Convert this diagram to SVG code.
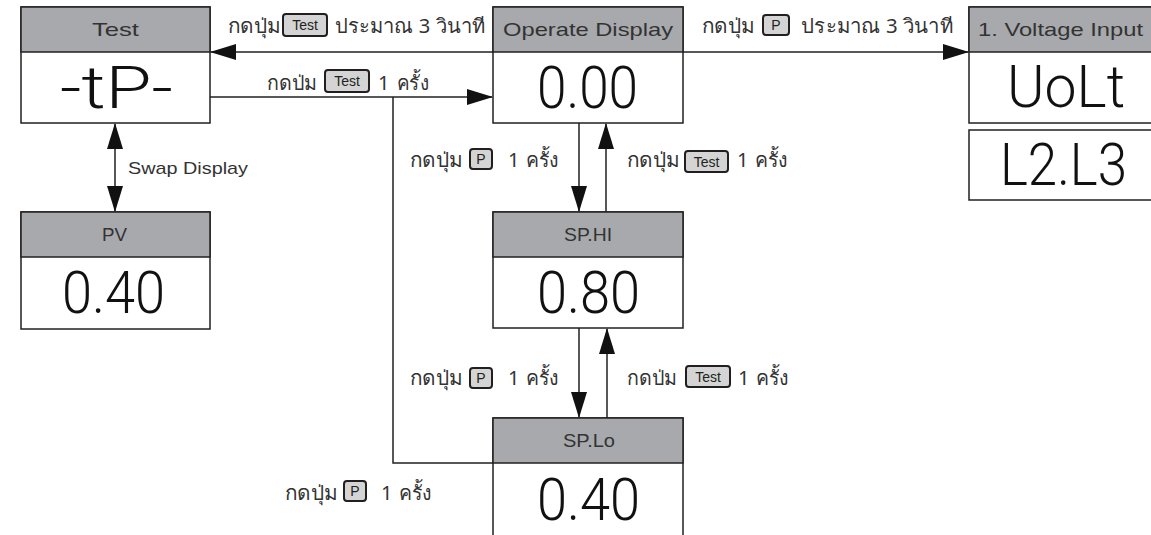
<svg xmlns="http://www.w3.org/2000/svg" width="1151" height="535" viewBox="0 0 1151 535">
<defs>
<style>
.box{fill:#fff;stroke:#231f20;stroke-width:1.5}
.hdr{fill:#a7a9ac;stroke:#231f20;stroke-width:1.5}
.title{font-family:"Liberation Sans",Arial,sans-serif;font-size:18.5px;fill:#333;text-anchor:middle}
.seg{font-family:Roboto,"Liberation Sans",sans-serif;font-weight:300;font-size:60px;fill:#111;text-anchor:middle}
.lbl{font-family:"Noto Sans","DejaVu Sans",sans-serif;font-size:20px;fill:#333}
.key{fill:#d4d4d4;stroke:#231f20;stroke-width:2}
.keyt{font-family:"Liberation Sans",sans-serif;font-size:14px;fill:#231f20;text-anchor:middle}
.ln{fill:none;stroke:#231f20;stroke-width:1.5}
.sw{font-family:"Liberation Sans",Arial,sans-serif;font-size:17px;fill:#333}
</style>
<marker id="arr" markerUnits="userSpaceOnUse" markerWidth="26" markerHeight="16" refX="25" refY="8" orient="auto-start-reverse" viewBox="0 0 26 16">
<path d="M0,0 L26,8 L0,16 z" fill="#111"/>
</marker>
</defs>
<rect width="1151" height="535" fill="#fff"/>

<g id="connectors">
<path class="ln" d="M493,52 H211" marker-end="url(#arr)"/>
<path class="ln" d="M210,97 H492" marker-end="url(#arr)"/>
<path class="ln" d="M493,463 H393 V97"/>
<path class="ln" d="M683,52 H968" marker-end="url(#arr)"/>
<path class="ln" d="M115,124 V211" marker-start="url(#arr)" marker-end="url(#arr)"/>
<path class="ln" d="M579,123 V211" marker-end="url(#arr)"/>
<path class="ln" d="M606,212 V124" marker-end="url(#arr)"/>
<path class="ln" d="M579,328 V417" marker-end="url(#arr)"/>
<path class="ln" d="M607,418 V329" marker-end="url(#arr)"/>

<g id="label-op-test">
<text class="lbl" x="228" y="33" textLength="53" lengthAdjust="spacingAndGlyphs">กดปุ่ม</text>
<rect class="key" x="283" y="14" width="44" height="22" rx="3"/>
<text class="keyt" x="305" y="30">Test</text>
<text class="lbl" x="335" y="33" textLength="150" lengthAdjust="spacingAndGlyphs">ประมาณ 3 วินาที</text>
</g>
<g id="label-test-op">
<text class="lbl" x="267" y="90" textLength="50" lengthAdjust="spacingAndGlyphs">กดป่ม</text>
<rect class="key" x="325" y="70" width="44" height="22" rx="3"/>
<text class="keyt" x="347" y="86">Test</text>
<text class="lbl" x="378" y="90">1</text>
<text class="lbl" x="397" y="90" textLength="32" lengthAdjust="spacingAndGlyphs">ครั้ง</text>
</g>
<g id="label-op-volt">
<text class="lbl" x="702" y="33" textLength="53" lengthAdjust="spacingAndGlyphs">กดปุ่ม</text>
<rect class="key" x="763" y="15" width="26" height="20" rx="3"/>
<text class="keyt" x="776" y="30">P</text>
<text class="lbl" x="801" y="33" textLength="152" lengthAdjust="spacingAndGlyphs">ประมาณ 3 วินาที</text>
</g>
<g id="label-op-sphi">
<text class="lbl" x="410" y="167" textLength="53" lengthAdjust="spacingAndGlyphs">กดปุ่ม</text>
<rect class="key" x="470" y="149" width="22" height="20" rx="3"/>
<text class="keyt" x="481" y="164">P</text>
<text class="lbl" x="508" y="167">1</text>
<text class="lbl" x="526" y="167" textLength="33" lengthAdjust="spacingAndGlyphs">ครั้ง</text>
</g>
<g id="label-sphi-op">
<text class="lbl" x="627" y="167" textLength="53" lengthAdjust="spacingAndGlyphs">กดปุ่ม</text>
<rect class="key" x="685" y="151" width="43" height="21" rx="3"/>
<text class="keyt" x="706.5" y="167">Test</text>
<text class="lbl" x="737" y="167">1</text>
<text class="lbl" x="755" y="167" textLength="33" lengthAdjust="spacingAndGlyphs">ครั้ง</text>
</g>
<g id="label-sphi-splo">
<text class="lbl" x="410" y="385" textLength="53" lengthAdjust="spacingAndGlyphs">กดปุ่ม</text>
<rect class="key" x="470" y="368" width="22" height="20" rx="3"/>
<text class="keyt" x="481" y="383">P</text>
<text class="lbl" x="508" y="385">1</text>
<text class="lbl" x="526" y="385" textLength="33" lengthAdjust="spacingAndGlyphs">ครั้ง</text>
</g>
<g id="label-splo-sphi">
<text class="lbl" x="627" y="385" textLength="50" lengthAdjust="spacingAndGlyphs">กดป่ม</text>
<rect class="key" x="686" y="366" width="44" height="21" rx="3"/>
<text class="keyt" x="708" y="382">Test</text>
<text class="lbl" x="738" y="385">1</text>
<text class="lbl" x="756" y="385" textLength="33" lengthAdjust="spacingAndGlyphs">ครั้ง</text>
</g>
<g id="label-splo-op">
<text class="lbl" x="285" y="500" textLength="53" lengthAdjust="spacingAndGlyphs">กดปุ่ม</text>
<rect class="key" x="344" y="481" width="22" height="20" rx="3"/>
<text class="keyt" x="355" y="496">P</text>
<text class="lbl" x="381" y="500">1</text>
<text class="lbl" x="399" y="500" textLength="33" lengthAdjust="spacingAndGlyphs">ครั้ง</text>
</g>
<text class="sw" x="128" y="174" textLength="120" lengthAdjust="spacingAndGlyphs">Swap Display</text>
</g>

<g id="node-test">
<rect class="box" x="21" y="7" width="189" height="116"/>
<rect class="hdr" x="21" y="7" width="189" height="45"/>
<text class="title" x="115.5" y="36" textLength="47" lengthAdjust="spacingAndGlyphs">Test</text>
<text class="seg" x="116.5" y="108" textLength="113" lengthAdjust="spacingAndGlyphs">-tP-</text>
</g>
<g id="node-pv">
<rect class="box" x="21" y="212" width="189" height="117"/>
<rect class="hdr" x="21" y="212" width="189" height="45"/>
<text class="title" x="114.5" y="241" textLength="25" lengthAdjust="spacingAndGlyphs">PV</text>
<text class="seg" x="113.5" y="313" textLength="103" lengthAdjust="spacingAndGlyphs">0.40</text>
</g>
<g id="node-operate">
<rect class="box" x="493" y="7" width="190" height="116"/>
<rect class="hdr" x="493" y="7" width="190" height="45"/>
<text class="title" x="588" y="36" textLength="170" lengthAdjust="spacingAndGlyphs">Operate Display</text>
<text class="seg" x="587.5" y="108" textLength="101" lengthAdjust="spacingAndGlyphs">0.00</text>
</g>
<g id="node-sphi">
<rect class="box" x="493" y="212" width="190" height="116"/>
<rect class="hdr" x="493" y="212" width="190" height="45"/>
<text class="title" x="588" y="241" textLength="48" lengthAdjust="spacingAndGlyphs">SP.HI</text>
<text class="seg" x="588.5" y="313" textLength="103" lengthAdjust="spacingAndGlyphs">0.80</text>
</g>
<g id="node-splo">
<rect class="box" x="493" y="418" width="190" height="118"/>
<rect class="hdr" x="493" y="418" width="190" height="45"/>
<text class="title" x="589" y="447" textLength="52" lengthAdjust="spacingAndGlyphs">SP.Lo</text>
<text class="seg" x="588.5" y="520" textLength="103" lengthAdjust="spacingAndGlyphs">0.40</text>
</g>
<g id="node-voltage">
<rect class="box" x="969" y="7" width="200" height="116"/>
<rect class="hdr" x="969" y="7" width="200" height="45"/>
<text class="title" x="1060.5" y="36" textLength="165" lengthAdjust="spacingAndGlyphs">1. Voltage Input</text>
<text class="seg" x="1066" y="107" textLength="118" lengthAdjust="spacingAndGlyphs">UoLt</text>
<rect class="box" x="969" y="130" width="200" height="70"/>
<text class="seg" x="1063.5" y="185" textLength="127" lengthAdjust="spacingAndGlyphs">L2.L3</text>
</g>
</svg>
